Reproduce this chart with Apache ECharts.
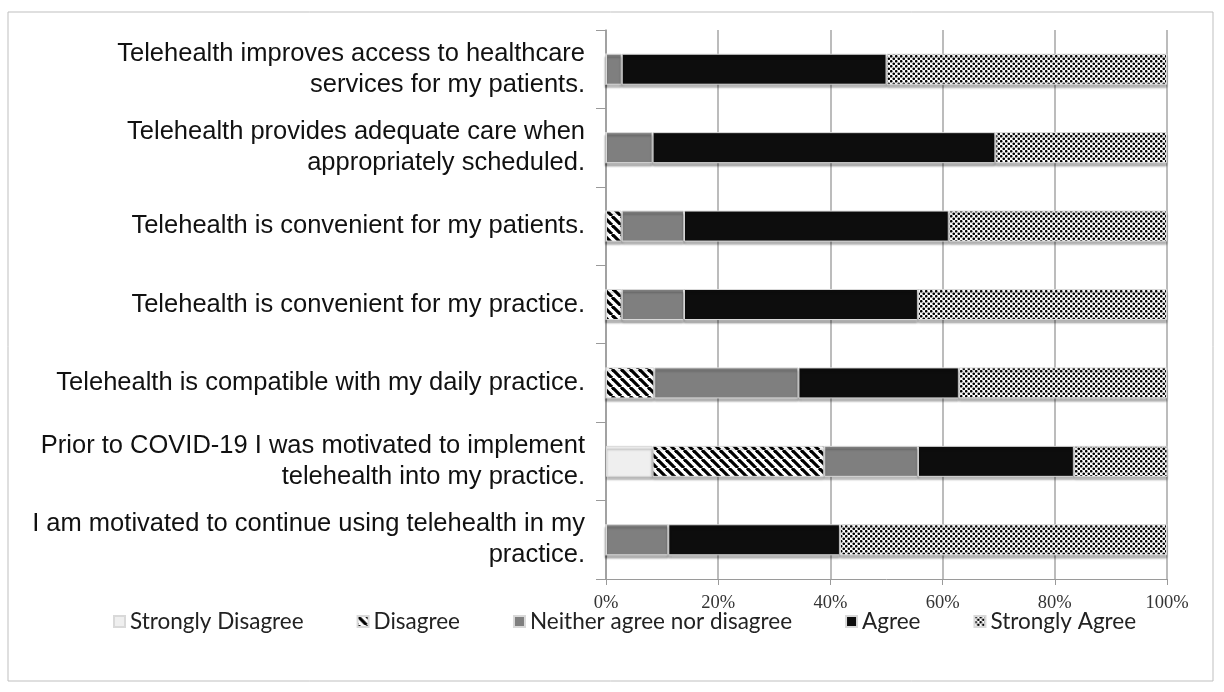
<!DOCTYPE html>
<html>
<head>
<meta charset="utf-8">
<script src="https://cdn.jsdelivr.net/npm/echarts@6/dist/echarts.min.js"></script>
<style>
html,body{margin:0;padding:0;background:#fff;}
#chart{width:1224px;height:692px;}
</style>
</head>
<body>
<div id="chart"></div>
<script>
const categories = [
  "Telehealth improves access to healthcare\nservices for my patients.",
  "Telehealth provides adequate care when\nappropriately scheduled.",
  "Telehealth is convenient for my patients.",
  "Telehealth is convenient for my practice.",
  "Telehealth is compatible with my daily practice.",
  "Prior to COVID-19 I was motivated to implement\ntelehealth into my practice.",
  "I am motivated to continue using telehealth in my\npractice."
];
const seriesNames = ["Strongly Disagree", "Disagree", "Neither agree nor disagree", "Agree", "Strongly Agree"];
const stronglyDisagree = [0, 0, 0, 0, 0, 8.3, 0];
const disagree = [0, 0, 2.8, 2.8, 8.6, 30.6, 0];
const neither = [2.8, 8.3, 11.1, 11.1, 25.7, 16.7, 11.1];
const agree = [47.2, 61.1, 47.2, 41.7, 28.6, 27.8, 30.6];
const stronglyAgree = [50, 30.6, 38.9, 44.4, 37.1, 16.7, 58.3];
const xTicks = { min: 0, max: 100, interval: 20 };

function stripePattern() {
  const c = document.createElement('canvas');
  const s = 9;
  c.width = s; c.height = s;
  const ctx = c.getContext('2d');
  ctx.fillStyle = '#ffffff';
  ctx.fillRect(0, 0, s, s);
  ctx.strokeStyle = '#000000';
  ctx.lineWidth = 3.2;
  for (const x0 of [-s, 0, s]) {
    ctx.beginPath();
    ctx.moveTo(x0, 0);
    ctx.lineTo(x0 + s, s);
    ctx.stroke();
  }
  return c;
}
function dotPattern() {
  const c = document.createElement('canvas');
  const s = 5;
  c.width = s; c.height = s;
  const ctx = c.getContext('2d');
  ctx.fillStyle = '#ffffff';
  ctx.fillRect(0, 0, s, s);
  ctx.fillStyle = '#000000';
  ctx.beginPath(); ctx.arc(1.25, 1.25, 1.3, 0, Math.PI * 2); ctx.fill();
  ctx.beginPath(); ctx.arc(3.75, 3.75, 1.3, 0, Math.PI * 2); ctx.fill();
  return c;
}

const fills = [
  '#efefef',
  { image: stripePattern(), repeat: 'repeat' },
  '#7f7f7f',
  '#0d0d0d',
  { image: dotPattern(), repeat: 'repeat' }
];
const values = [stronglyDisagree, disagree, neither, agree, stronglyAgree];

const chart = echarts.init(document.getElementById('chart'));
chart.setOption({
  animation: false,
  backgroundColor: '#ffffff',
  graphic: [{
    type: 'rect',
    shape: { x: 8, y: 12, width: 1205, height: 669 },
    style: { fill: 'none', stroke: '#bfbfbf', lineWidth: 1 },
    silent: true
  }],
  grid: { left: 606, right: 57, top: 30, bottom: 113 },
  legend: {
    bottom: 54,
    left: 108,
    itemWidth: 11,
    itemHeight: 11,
    itemGap: 53,
    icon: 'rect',
    textStyle: { fontFamily: 'Lato', fontSize: 22.5, color: '#222' },
    data: seriesNames
  },
  xAxis: {
    type: 'value',
    min: xTicks.min,
    max: xTicks.max,
    interval: xTicks.interval,
    axisLine: { show: true, lineStyle: { color: '#9a9a9a', width: 1 } },
    axisTick: { show: true, length: 6, lineStyle: { color: '#9a9a9a' } },
    splitLine: { show: true, lineStyle: { color: '#a6a6a6', width: 1.5 } },
    axisLabel: { formatter: '{value}%', fontFamily: 'Liberation Serif', fontSize: 18.5, color: '#333', margin: 15 }
  },
  yAxis: {
    type: 'category',
    inverse: true,
    data: categories,
    axisLine: { show: true, lineStyle: { color: '#9a9a9a', width: 1.5 } },
    axisTick: { show: true, length: 10, lineStyle: { color: '#9a9a9a' } },
    axisLabel: { fontFamily: 'Liberation Sans', fontSize: 25.5, color: '#111', margin: 21, lineHeight: 31, align: 'right' }
  },
  series: seriesNames.map((name, i) => ({
    name: name,
    type: 'bar',
    stack: 'total',
    barWidth: 31,
    data: values[i],
    itemStyle: {
      color: fills[i],
      borderColor: '#d9d9d9',
      borderWidth: 1,
      shadowColor: 'rgba(0,0,0,0.3)',
      shadowBlur: 2,
      shadowOffsetY: 3
    }
  }))
});
</script>
</body>
</html>
